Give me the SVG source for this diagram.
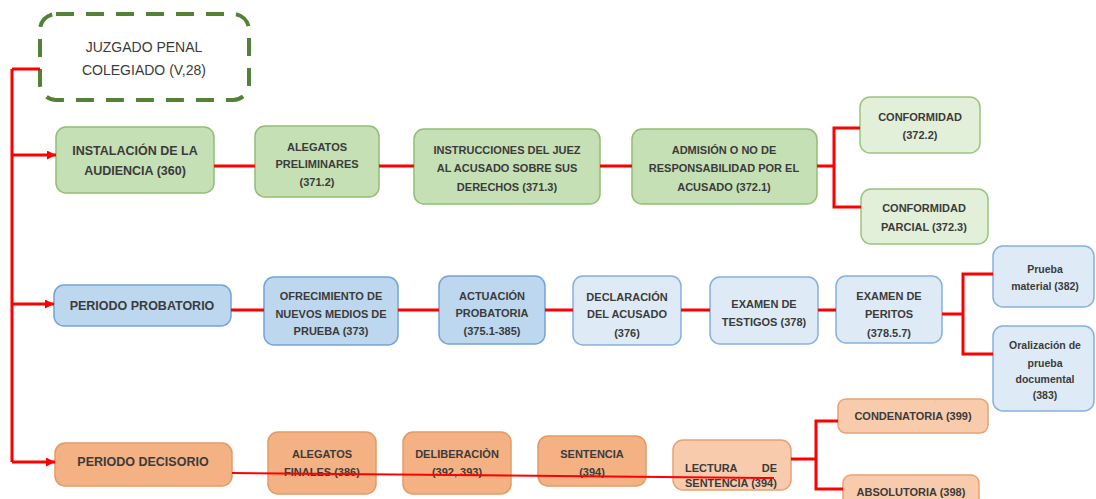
<svg xmlns="http://www.w3.org/2000/svg" width="1096" height="499" viewBox="0 0 1096 499">
<defs>
<marker id="arr" markerUnits="userSpaceOnUse" markerWidth="9" markerHeight="9" refX="9" refY="4.5" orient="auto">
<path d="M0,0 L9,4.5 L0,9 z" fill="#ff0000"/>
</marker>
<style>
text{font-family:"Liberation Sans",Arial,sans-serif;fill:#3b3b3b;text-anchor:middle;font-weight:bold;font-size:11px}
.big{font-size:12.5px}
.reg{font-weight:normal;font-size:14px}
.sm{font-size:10.5px}
.g1{fill:#c5e0b4;stroke:#93bd74;stroke-width:1.5}
.g2{fill:#e2efd9;stroke:#9cc47e;stroke-width:1.5}
.b1{fill:#bdd7ee;stroke:#74a3d6;stroke-width:1.5}
.b2{fill:#deebf7;stroke:#86b0df;stroke-width:1.5}
.o1{fill:#f4b183;stroke:#e39a66;stroke-width:1.5}
.o2{fill:#f8cbad;stroke:#e6a273;stroke-width:1.5}
.ln{stroke:#ff0000;stroke-width:3;fill:none}
.thin{stroke:#ff0000;stroke-width:2;fill:none}
</style>
</defs>
<rect width="1096" height="499" fill="#ffffff"/>

<g id="juzgado">
<rect x="40" y="14" width="209" height="86" rx="16" fill="#ffffff" stroke="#538135" stroke-width="4" stroke-dasharray="18 12"/>
<text class="reg" x="144" y="52">JUZGADO PENAL</text>
<text class="reg" x="144" y="75">COLEGIADO (V,28)</text>
</g>

<g id="instalacion">
<rect class="g1" x="56" y="127" width="158" height="66" rx="10"/>
<text class="big" x="135" y="155">INSTALACIÓN DE LA</text>
<text class="big" x="135" y="175">AUDIENCIA (360)</text>
</g>
<g id="alegatos-preliminares">
<rect class="g1" x="255" y="126" width="124" height="71" rx="10"/>
<text x="317" y="151">ALEGATOS</text>
<text x="317" y="168">PRELIMINARES</text>
<text x="317" y="186">(371.2)</text>
</g>
<g id="instrucciones">
<rect class="g1" x="414" y="129" width="186" height="75" rx="10"/>
<text x="507" y="154">INSTRUCCIONES DEL JUEZ</text>
<text x="507" y="172">AL ACUSADO SOBRE SUS</text>
<text x="507" y="191">DERECHOS (371.3)</text>
</g>
<g id="admision">
<rect class="g1" x="632" y="129" width="185" height="75" rx="10"/>
<text x="724" y="154">ADMISIÓN O NO DE</text>
<text x="724" y="172">RESPONSABILIDAD POR EL</text>
<text x="724" y="191">ACUSADO (372.1)</text>
</g>
<g id="conformidad">
<rect class="g2" x="860" y="97" width="120" height="56" rx="10"/>
<text x="920" y="121">CONFORMIDAD</text>
<text x="920" y="139">(372.2)</text>
</g>
<g id="conformidad-parcial">
<rect class="g2" x="861" y="189" width="127" height="55" rx="10"/>
<text x="924" y="212">CONFORMIDAD</text>
<text x="924" y="231">PARCIAL (372.3)</text>
</g>

<g id="periodo-probatorio">
<rect class="b1" x="54" y="285" width="177" height="41" rx="10"/>
<text class="big" x="142" y="310">PERIODO PROBATORIO</text>
</g>
<g id="ofrecimiento">
<rect class="b1" x="264" y="277" width="134" height="68" rx="10"/>
<text x="331" y="300">OFRECIMIENTO DE</text>
<text x="331" y="318">NUEVOS MEDIOS DE</text>
<text x="331" y="335">PRUEBA (373)</text>
</g>
<g id="actuacion">
<rect class="b1" x="439" y="276" width="106" height="68" rx="10"/>
<text x="492" y="300">ACTUACIÓN</text>
<text x="492" y="317">PROBATORIA</text>
<text x="492" y="335">(375.1-385)</text>
</g>
<g id="declaracion">
<rect class="b2" x="573" y="276" width="108" height="69" rx="10"/>
<text x="627" y="301">DECLARACIÓN</text>
<text x="627" y="318">DEL ACUSADO</text>
<text x="627" y="337">(376)</text>
</g>
<g id="testigos">
<rect class="b2" x="710" y="277" width="108" height="67" rx="10"/>
<text x="764" y="308">EXAMEN DE</text>
<text x="764" y="326">TESTIGOS (378)</text>
</g>
<g id="peritos">
<rect class="b2" x="836" y="276" width="106" height="67" rx="10"/>
<text x="889" y="300">EXAMEN DE</text>
<text x="889" y="318">PERITOS</text>
<text x="889" y="337">(378.5.7)</text>
</g>
<g id="prueba-material">
<rect class="b2" x="993" y="246" width="101" height="61" rx="10"/>
<text class="sm" x="1045" y="273">Prueba</text>
<text class="sm" x="1045" y="290">material (382)</text>
</g>
<g id="oralizacion">
<rect class="b2" x="993" y="326" width="101" height="85" rx="10"/>
<text class="sm" x="1045" y="349">Oralización de</text>
<text class="sm" x="1045" y="367">prueba</text>
<text class="sm" x="1045" y="383">documental</text>
<text class="sm" x="1045" y="399">(383)</text>
</g>

<g id="periodo-decisorio">
<rect class="o1" x="55" y="443" width="177" height="43" rx="10"/>
<text class="big" x="143" y="466">PERIODO DECISORIO</text>
</g>
<g id="alegatos-finales">
<rect class="o1" x="268" y="432" width="108" height="62" rx="10"/>
<text x="322" y="458">ALEGATOS</text>
<text x="322" y="476">FINALES (386)</text>
</g>
<g id="deliberacion">
<rect class="o1" x="403" y="432" width="108" height="62" rx="10"/>
<text x="457" y="458">DELIBERACIÒN</text>
<text x="457" y="476">(392, 393)</text>
</g>
<g id="sentencia">
<rect class="o1" x="538" y="436" width="108" height="50" rx="10"/>
<text x="592" y="458">SENTENCIA</text>
<text x="592" y="476">(394)</text>
</g>
<g id="lectura">
<rect class="o2" x="673" y="440" width="118" height="50" rx="10"/>
<text style="text-anchor:start" x="685" y="472">LECTURA<tspan x="777" style="text-anchor:end">DE</tspan></text>
<text style="text-anchor:start" x="685" y="487">SENTENCIA (394)</text>
</g>
<g id="condenatoria">
<rect class="o2" x="838" y="399" width="150" height="34" rx="8"/>
<text x="913" y="420">CONDENATORIA (399)</text>
</g>
<g id="absolutoria">
<rect class="o2" x="843" y="475" width="136" height="40" rx="8"/>
<text x="911" y="496">ABSOLUTORIA (398)</text>
</g>

<g id="connectors">
<path class="ln" d="M12,69 V462 M12,69 H40"/>
<path class="ln" d="M12,155 H56" marker-end="url(#arr)"/>
<path class="ln" d="M12,304 H54" marker-end="url(#arr)"/>
<path class="ln" d="M12,462 H55" marker-end="url(#arr)"/>
<path class="ln" d="M214,166 H255 M379,166 H414 M600,166 H632 M817,166 H834 M860,128 H834 V207 H861"/>
<path class="ln" d="M231,310 H264 M398,310 H439 M545,310 H573 M681,310 H710 M818,310 H836 M942,314 H963 M993,274 H963 V354 H993"/>
<path class="ln" d="M791,459 H816 M838,421 H816 V489 H843"/>
<path class="thin" d="M232,473 L774,478"/>
</g>
</svg>
